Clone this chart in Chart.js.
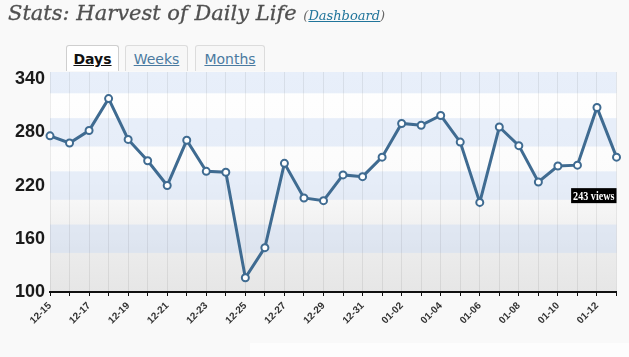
<!DOCTYPE html>
<html>
<head>
<meta charset="utf-8">
<script src="https://cdn.jsdelivr.net/npm/chart.js@4/dist/chart.umd.min.js"></script>
<style>
  html, body { margin:0; padding:0; background:#f9f9f9; width:629px; height:357px; overflow:hidden; }
  #wrap { position:relative; width:629px; height:357px; }
  #title { position:absolute; left:8px; top:1px; font-family:"DejaVu Serif", serif; font-style:italic; font-size:21px; color:#505050; white-space:nowrap; -webkit-text-stroke:0.3px #505050; }
  #title small { font-size:13px; color:#666; -webkit-text-stroke:0; }
  #title small a { color:#21759b; text-decoration:underline; }
  .tab { position:absolute; top:45px; height:26px; border:1px solid #dcdcdc; border-bottom:none; border-radius:3px 3px 0 0; background:#f7f7f7; font-family:"DejaVu Sans", sans-serif; font-size:14px; text-align:center; line-height:26px; color:#4a7aa0; text-decoration:underline; box-sizing:border-box; }
  .tab.on { background:#fff; color:#111; font-weight:bold; border-color:#cfcfcf; }
  #bottomstrip { position:absolute; left:250px; top:343px; width:379px; height:14px; background:#fdfdfd; }
  canvas { position:absolute; left:0; top:0; }
</style>
</head>
<body>
<div id="wrap">
  <div id="bottomstrip"></div>
  <canvas id="c" width="629" height="357"></canvas>
  <div id="title">Stats: Harvest of Daily Life <small>(<a>Dashboard</a>)</small></div>
  <div class="tab on" style="left:66px;width:53px;">Days</div>
  <div class="tab" style="left:125px;width:63px;">Weeks</div>
  <div class="tab" style="left:195px;width:70px;">Months</div>
</div>
<script>
const days = ["12-15","12-16","12-17","12-18","12-19","12-20","12-21","12-22","12-23","12-24","12-25","12-26","12-27","12-28","12-29","12-30","12-31","01-01","01-02","01-03","01-04","01-05","01-06","01-07","01-08","01-09","01-10","01-11","01-12","01-13"];
const views = [276,268,282,318,272,248,220,271,236,235,116,150,245,206,203,232,230,252,290,288,299,269,201,286,265,224,242,243,308,252];
const yTicks = [100,160,220,280,340];
const hoverIndex = 27;
const hoverText = views[hoverIndex] + " views";

const bgPlugin = {
  id: 'bg',
  beforeDraw(chart) {
    const {ctx, chartArea:a, scales:{y}} = chart;
    ctx.save();
    const g = ctx.createLinearGradient(0, a.top, 0, a.bottom);
    g.addColorStop(0, '#ffffff');
    g.addColorStop(0.5, '#fbfbfb');
    g.addColorStop(0.8, '#ececec');
    g.addColorStop(1, '#e6e6e6');
    ctx.fillStyle = g;
    ctx.fillRect(a.left, a.top, a.right - a.left, a.bottom - a.top);
    ctx.fillStyle = 'rgba(205,220,245,0.45)';
    yTicks.forEach(t => {
      if (t <= y.min) return;
      const y1 = Math.max(a.top, y.getPixelForValue(t + 16));
      const y2 = Math.min(a.bottom, y.getPixelForValue(t - 16));
      ctx.fillRect(a.left, y1, a.right - a.left, y2 - y1);
    });
    ctx.restore();
  },
  afterDraw(chart) {
    const {ctx, chartArea:a} = chart;
    const p = chart.getDatasetMeta(0).data[hoverIndex];
    ctx.save();
    ctx.font = 'bold 13px "Liberation Serif", serif';
    const sx = 0.78;
    const w = ctx.measureText(hoverText).width * sx + 4;
    const x = Math.min(p.x - 2, a.right - w);
    const y = p.y + 23;
    ctx.fillStyle = '#000';
    ctx.fillRect(x, y, w, 15);
    ctx.fillStyle = '#fff';
    ctx.textBaseline = 'middle';
    ctx.translate(x + 2, y + 8);
    ctx.scale(sx, 1);
    ctx.fillText(hoverText, 0, 0);
    ctx.restore();
  }
};

new Chart(document.getElementById('c'), {
  type: 'line',
  data: {
    labels: days,
    datasets: [{
      data: views,
      borderColor: '#3f6b91',
      borderWidth: 3,
      pointRadius: 3.5,
      pointBorderWidth: 2,
      pointBackgroundColor: '#ffffff',
      pointBorderColor: '#3f6b91',
      tension: 0,
      clip: false
    }]
  },
  options: {
    responsive: false,
    animation: false,
    events: [],
    layout: { padding: { left: 0, right: 8, top: 72, bottom: 0 } },
    plugins: { legend: { display: false }, tooltip: { enabled: false }, title: { display: false } },
    scales: {
      x: {
        offset: false,
        grid: { color: 'rgba(0,0,0,0.07)', tickColor: '#111', tickLength: 4, drawTicks: true },
        border: { color: '#111', width: 2 },
        ticks: {
          autoSkip: false, maxRotation: 45, minRotation: 45, padding: 4,
          color: '#333', font: { family: 'Liberation Sans, Arial, sans-serif', size: 10, weight: 'bold' },
          callback: function(v, i) { return i % 2 === 0 ? days[i] : ''; }
        },
        afterFit(s) { s.height = 65; }
      },
      y: {
        min: 100, max: 348,
        afterBuildTicks(s) { s.ticks = yTicks.map(v => ({ value: v })); },
        grid: { display: false, drawTicks: false },
        border: { display: false },
        ticks: { padding: 5, color: '#1a1a1a', font: { family: 'Liberation Sans, Arial, sans-serif', size: 18, weight: 'bold' } },
        afterFit(s) { s.width = 50; }
      }
    }
  },
  plugins: [bgPlugin]
});
</script>
</body>
</html>
